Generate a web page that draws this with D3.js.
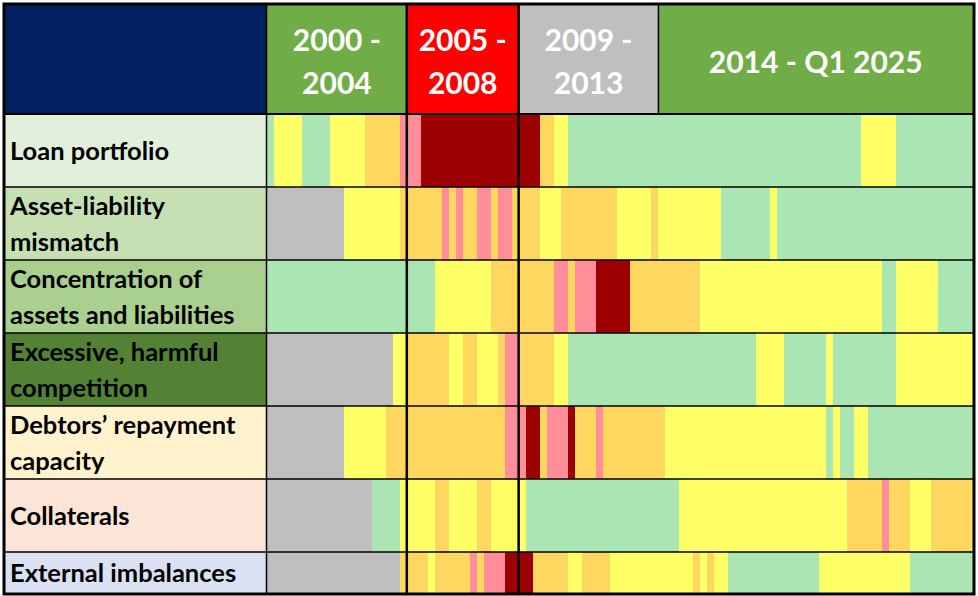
<!DOCTYPE html>
<html lang="en">
<head>
    <meta charset="UTF-8">
    <title>Risk heatmap 2000 - Q1 2025</title>
    <style>
        body, html {
            margin: 0;
            padding: 0;
            width: 100%;
            height: 100%;
            overflow: hidden;
            background: #fff;
        }
        svg { display: block; }
    </style>
</head>
<body>
    <script src="https://d3js.org/d3.v7.min.js"></script>
    <script>
        // Risk rows (labels split over lines as in the table)
        var riskLabels = [
            ["Loan portfolio"],
            ["Asset-liability", "mismatch"],
            ["Concentration of", "assets and liabilities"],
            ["Excessive, harmful", "competition"],
            ["Debtors\u2019 repayment", "capacity"],
            ["Collaterals"],
            ["External imbalances"]
        ];
        var labelFills = ["#E2EFDA", "#C6E0B4", "#A9D08E", "#548235", "#FFF2CC", "#FCE4D6", "#D9E1F2"];

        // Period headers
        var periodLabels = [["2000 -", "2004"], ["2005 -", "2008"], ["2009 -", "2013"], ["2014 - Q1 2025"]];
        var periodStart = ["2000Q1", "2005Q1", "2009Q1", "2014Q1"];
        var periodEnd = ["2004Q4", "2008Q4", "2013Q4", "2025Q1"];
        var periodFills = ["#70AD47", "#FF0000", "#BFBFBF", "#70AD47"];

        // Risk level per quarter: 0 n/a, 1 low, 2 moderate, 3 elevated, 4 high, 5 very high
        var loanPortfolio = [
            1,2,2,2,2,1,1,1,1,2,2,2,2,2,3,3,3,3,3,4,
            4,4,5,5,5,5,5,5,5,5,5,5,5,5,5,5,
            5,5,5,3,3,2,2,1,1,1,1,1,1,1,1,1,1,1,1,1,
            1,1,1,1,1,1,1,1,1,1,1,1,1,1,1,1,1,1,1,1,1,1,1,1,1,1,1,1,1,2,2,2,2,2,1,1,1,1,1,1,1,1,1,1,1
        ];
        var assetLiability = [
            0,0,0,0,0,0,0,0,0,0,0,2,2,2,2,2,2,2,2,3,
            3,3,3,3,3,4,3,4,3,3,4,4,3,4,4,3,
            3,3,3,2,2,2,3,3,3,3,3,3,3,3,2,2,2,2,2,3,
            2,2,2,2,2,2,2,2,2,1,1,1,1,1,1,1,2,1,1,1,1,1,1,1,1,1,1,1,1,1,1,1,1,1,1,1,1,1,1,1,1,1,1,1,1
        ];
        var concentration = [
            1,1,1,1,1,1,1,1,1,1,1,1,1,1,1,1,1,1,1,1,
            1,1,1,1,2,2,2,2,2,2,2,2,3,3,3,3,
            3,3,3,3,3,4,4,3,4,4,4,5,5,5,5,5,3,3,3,3,
            3,3,3,3,3,3,2,2,2,2,2,2,2,2,2,2,2,2,2,2,2,2,2,2,2,2,2,2,2,2,2,2,1,1,2,2,2,2,2,2,1,1,1,1,1
        ];
        var competition = [
            0,0,0,0,0,0,0,0,0,0,0,0,0,0,0,0,0,0,2,2,
            3,3,3,3,3,3,2,2,3,3,2,2,2,3,4,4,
            3,3,3,3,3,2,2,1,1,1,1,1,1,1,1,1,1,1,1,1,
            1,1,1,1,1,1,1,1,1,1,1,1,1,1,2,2,2,2,1,1,1,1,1,1,2,1,1,1,1,1,1,1,1,1,2,2,2,2,2,2,2,2,2,2,2
        ];
        var repayment = [
            0,0,0,0,0,0,0,0,0,0,0,2,2,2,2,2,2,3,3,3,
            3,3,3,3,3,3,3,3,3,3,3,3,3,3,4,4,
            4,5,5,3,4,4,4,5,3,3,3,4,3,3,3,3,3,3,3,3,
            3,2,2,2,2,2,2,2,2,2,2,2,2,2,2,2,2,2,2,2,2,2,2,2,1,2,1,1,2,2,1,1,1,1,1,1,1,1,1,1,1,1,1,1,1
        ];
        var collaterals = [
            0,0,0,0,0,0,0,0,0,0,0,0,0,0,0,1,1,1,1,2,
            2,2,2,2,3,3,2,2,2,2,3,3,2,2,2,2,
            2,1,1,1,1,1,1,1,1,1,1,1,1,1,1,1,1,1,1,1,
            1,1,1,2,2,2,2,2,2,2,2,2,2,2,2,2,2,2,2,2,2,2,2,2,2,2,2,3,3,3,3,3,4,3,3,3,2,2,2,3,3,3,3,3,3
        ];
        var external = [
            0,0,0,0,0,0,0,0,0,0,0,0,0,0,0,0,0,0,0,3,
            3,3,3,2,3,3,3,3,3,4,3,4,4,4,5,5,
            5,5,3,3,3,3,3,2,2,3,3,3,3,2,2,2,2,2,2,2,
            2,2,2,2,2,3,2,3,2,2,1,1,1,1,1,1,1,1,1,1,1,1,1,2,2,2,2,2,2,2,2,2,2,2,2,2,1,1,1,1,1,1,1,1,1
        ];
        var riskValues = [loanPortfolio, assetLiability, concentration, competition, repayment, collaterals, external];

        var levelColors = ["#BFBFBF", "#A9E6B4", "#FFFF66", "#FFD75E", "#FF8E9A", "#9C0000"];

        // Quarter categories 2000Q1 .. 2025Q1
        var quarters = [];
        for (var yr = 2000; yr <= 2025; yr++) {
            for (var q = 1; q <= 4; q++) {
                if (yr === 2025 && q > 1) break;
                quarters.push(yr + "Q" + q);
            }
        }

        var width = 978, height = 596;
        var xLeft = 4, xRight = 974, yTop = 4, yBottom = 594;
        var heatLeft = 267, heatRight = 973;
        var headerBottom = 114;
        var rowHeights = [73, 73, 73, 73, 73, 73, 41.5];

        var svg = d3.select("body")
            .append("svg")
            .attr("width", width)
            .attr("height", height);

        var x = d3.scaleBand()
            .domain(quarters)
            .range([heatLeft, heatRight])
            .padding(0);

        var rowTops = [];
        var acc = headerBottom;
        rowHeights.forEach(function(h) { rowTops.push(acc); acc += h; });
        var y = d3.scaleOrdinal()
            .domain(d3.range(riskLabels.length))
            .range(rowTops);

        var color = d3.scaleOrdinal()
            .domain(d3.range(levelColors.length))
            .range(levelColors);

        // Header: blank navy corner
        svg.append("rect")
            .attr("x", xLeft).attr("y", yTop)
            .attr("width", heatLeft - xLeft).attr("height", headerBottom - yTop)
            .attr("fill", "#002060");

        // Period header cells
        var periods = periodLabels.map(function(lbl, i) {
            return { label: lbl, x0: x(periodStart[i]), x1: x(periodEnd[i]) + x.bandwidth(), fill: periodFills[i] };
        });

        svg.selectAll("rect.period")
            .data(periods)
            .enter()
            .append("rect")
            .attr("class", "period")
            .attr("x", function(d) { return d.x0; })
            .attr("y", yTop)
            .attr("width", function(d) { return d.x1 - d.x0; })
            .attr("height", headerBottom - yTop)
            .attr("fill", function(d) { return d.fill; });

        var ptext = svg.selectAll("text.period")
            .data(periods)
            .enter()
            .append("text")
            .attr("class", "period")
            .attr("text-anchor", "middle")
            .attr("fill", "#fff")
            .attr("font-family", "Lato, 'Open Sans', sans-serif")
            .attr("font-weight", "bold")
            .attr("font-size", 30);

        ptext.each(function(d) {
            var t = d3.select(this);
            var cx = (d.x0 + d.x1) / 2;
            var startY = d.label.length === 2 ? 51 : 73;
            d.label.forEach(function(line, k) {
                t.append("tspan")
                    .attr("x", cx)
                    .attr("y", startY + k * 43)
                    .text(line);
            });
        });

        // Row label cells
        svg.selectAll("rect.label")
            .data(riskLabels)
            .enter()
            .append("rect")
            .attr("class", "label")
            .attr("x", xLeft)
            .attr("y", function(d, i) { return y(i); })
            .attr("width", heatLeft - xLeft)
            .attr("height", function(d, i) { return rowHeights[i]; })
            .attr("fill", function(d, i) { return labelFills[i]; });

        var ltext = svg.selectAll("text.label")
            .data(riskLabels)
            .enter()
            .append("text")
            .attr("class", "label")
            .attr("fill", "#000")
            .attr("font-family", "Lato, 'Open Sans', sans-serif")
            .attr("font-weight", "bold")
            .attr("font-size", 25.5);

        ltext.each(function(d, i) {
            var t = d3.select(this);
            var mid = y(i) + rowHeights[i] / 2;
            var lineH = 36;
            var first = mid - (d.length - 1) * lineH / 2 + 9;
            d.forEach(function(line, k) {
                t.append("tspan")
                    .attr("x", 10)
                    .attr("y", first + k * lineH)
                    .text(line);
            });
        });

        // Heat cells
        var cells = [];
        riskValues.forEach(function(vals, r) {
            vals.forEach(function(v, i) {
                cells.push({ row: r, q: quarters[i], v: v });
            });
        });

        svg.append("g")
            .attr("shape-rendering", "crispEdges")
            .selectAll("rect")
            .data(cells)
            .enter()
            .append("rect")
            .attr("x", function(d) { return x(d.q); })
            .attr("y", function(d) { return y(d.row); })
            .attr("width", x.bandwidth() + 0.4)
            .attr("height", function(d) { return rowHeights[d.row]; })
            .attr("fill", function(d) { return color(d.v); });

        // Grid lines
        var grid = svg.append("g").attr("stroke", "#000");

        rowTops.slice(1).forEach(function(yy) {
            grid.append("line")
                .attr("x1", xLeft).attr("x2", xRight)
                .attr("y1", yy).attr("y2", yy)
                .attr("stroke-width", 1.5);
        });
        grid.append("line")
            .attr("x1", xLeft).attr("x2", xRight)
            .attr("y1", headerBottom).attr("y2", headerBottom)
            .attr("stroke-width", 2);

        grid.append("line")
            .attr("x1", heatLeft - 0.5).attr("x2", heatLeft - 0.5)
            .attr("y1", yTop).attr("y2", yBottom)
            .attr("stroke-width", 1.5);

        ["2005Q1", "2009Q1"].forEach(function(qq) {
            grid.append("line")
                .attr("x1", x(qq)).attr("x2", x(qq))
                .attr("y1", yTop).attr("y2", yBottom)
                .attr("stroke-width", 2.5);
        });
        grid.append("line")
            .attr("x1", x("2014Q1")).attr("x2", x("2014Q1"))
            .attr("y1", yTop).attr("y2", headerBottom)
            .attr("stroke-width", 1.5);

        // Outer border
        svg.append("rect")
            .attr("x", xLeft).attr("y", yTop)
            .attr("width", xRight - xLeft).attr("height", yBottom - yTop)
            .attr("fill", "none")
            .attr("stroke", "#000")
            .attr("stroke-width", 3);
    </script>
</body>
</html>
